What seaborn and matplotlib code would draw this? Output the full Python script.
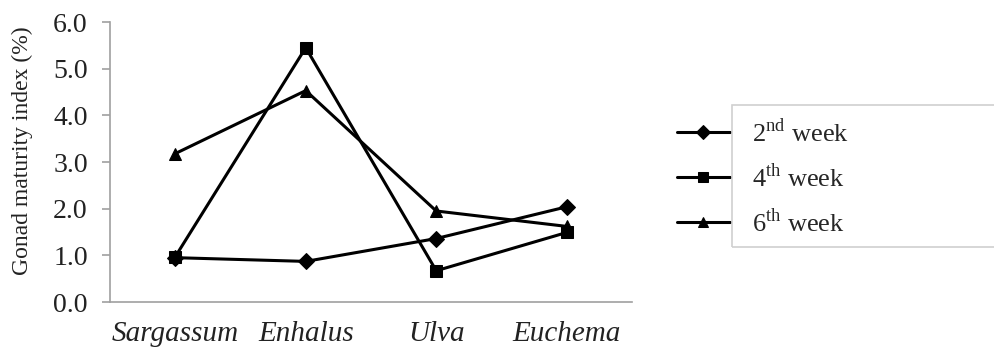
import pandas as pd
import matplotlib.pyplot as plt
from matplotlib.patches import Rectangle
import seaborn as sns

# Data
seaweeds = ['Sargassum', 'Enhalus', 'Ulva', 'Euchema']
week2 = [0.95, 0.87, 1.36, 2.04]
week4 = [0.97, 5.45, 0.67, 1.49]
week6 = [3.18, 4.53, 1.95, 1.62]
week_labels = ['2$^{\\mathrm{nd}}$ week', '4$^{\\mathrm{th}}$ week', '6$^{\\mathrm{th}}$ week']
y_ticks = [0.0, 1.0, 2.0, 3.0, 4.0, 5.0, 6.0]

df = pd.DataFrame({
    'Seaweed': seaweeds * 3,
    'GMI': week2 + week4 + week6,
    'Week': [week_labels[0]] * 4 + [week_labels[1]] * 4 + [week_labels[2]] * 4,
})

sns.set_style('white')
plt.rcParams['font.family'] = ['Liberation Serif', 'DejaVu Serif']
plt.rcParams['mathtext.fontset'] = 'custom'
plt.rcParams['mathtext.rm'] = 'Liberation Serif'

fig = plt.figure(figsize=(9.95, 3.51), dpi=100)
ax = fig.add_axes([110 / 995, 49 / 351, 522 / 995, 280 / 351])

sns.lineplot(data=df, x='Seaweed', y='GMI', hue='Week', style='Week',
             palette=['black'] * 3, markers={week_labels[0]: 'D', week_labels[1]: 's', week_labels[2]: '^'},
             dashes=False, linewidth=2.2, markersize=8, markeredgecolor='black',
             sort=False, ax=ax)

ax.set_xlim(-0.5, 3.5)
ax.set_ylim(0, 6)
ax.set_yticks(y_ticks)
ax.set_yticklabels([f'{v:.1f}' for v in y_ticks], fontsize=20, color='#222222')
ax.set_xticks(range(len(seaweeds)))
ax.set_xticklabels(seaweeds, fontsize=21, style='italic', color='#222222')
ax.tick_params(axis='x', length=0, pad=14)
ax.tick_params(axis='y', length=6, width=1.2, color='#a0a0a0', direction='out', pad=10, left=True)
ax.set_xlabel('')
ax.set_ylabel('Gonad maturity index (%)', fontsize=17, color='#222222')
ax.yaxis.set_label_coords(-0.147, 0.54)

for side in ['top', 'right']:
    ax.spines[side].set_visible(False)
for side in ['left', 'bottom']:
    ax.spines[side].set_color('#a0a0a0')
    ax.spines[side].set_linewidth(1.2)

handles, labels = ax.get_legend_handles_labels()
for h in handles:
    h.set_markersize(7)
ax.legend(handles, labels, loc='upper left', bbox_to_anchor=(677 / 995, 1 - 118 / 351),
          bbox_transform=fig.transFigure, frameon=False, fontsize=19,
          handlelength=2.0, handletextpad=0.85, labelspacing=0.62, borderpad=0,
          borderaxespad=0)

fig.patches.append(Rectangle((732 / 995, 1 - 247 / 351), 0.3, 142 / 351,
                             transform=fig.transFigure, fill=False,
                             edgecolor='#d0d0d0', linewidth=1.2))

fig.savefig('out.png', dpi=100)
